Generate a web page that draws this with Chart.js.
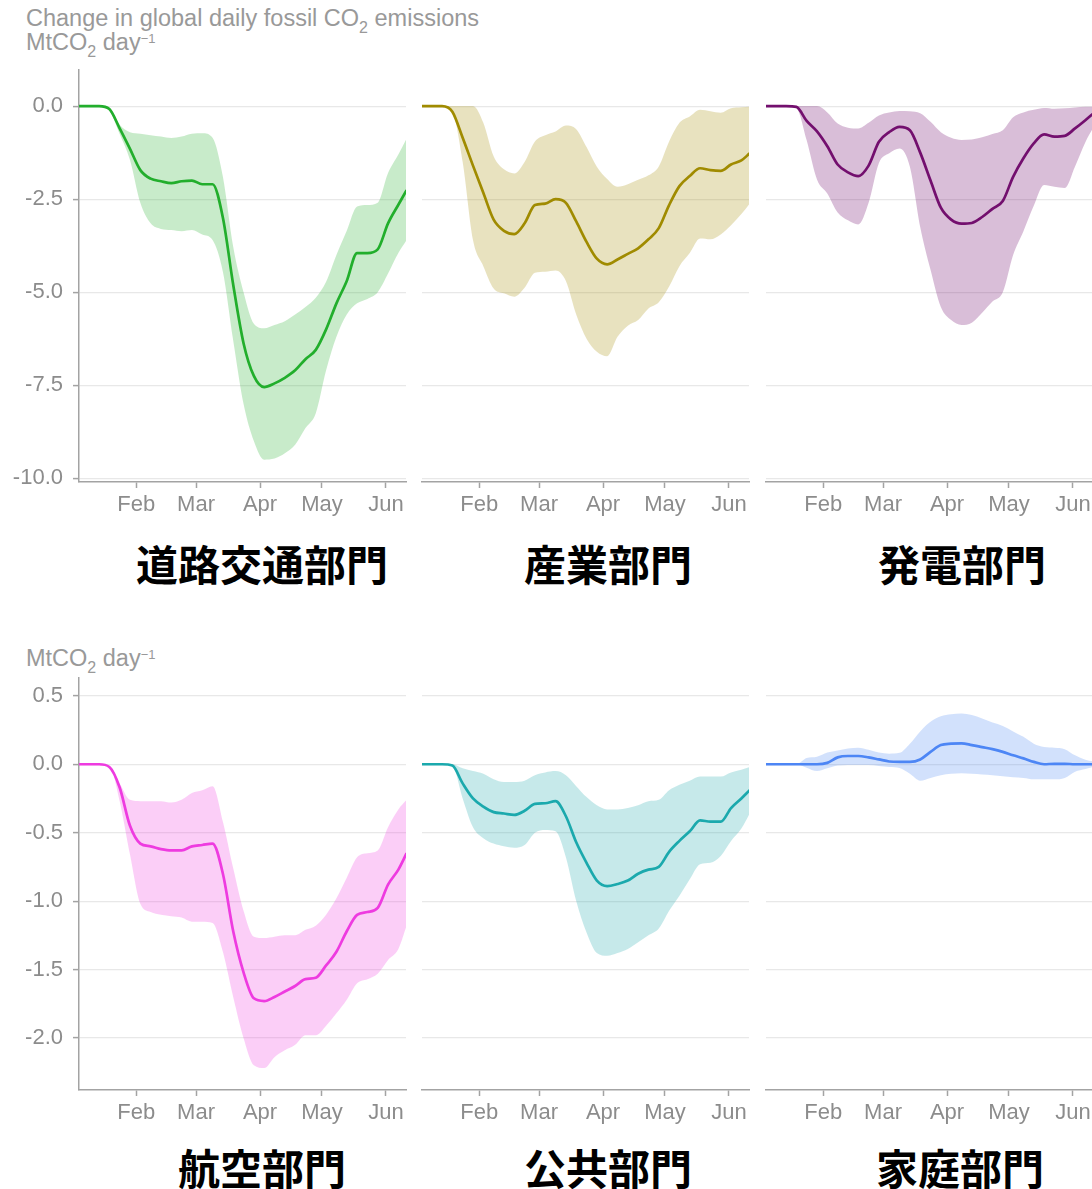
<!DOCTYPE html>
<html>
<head>
<meta charset="utf-8">
<title>部門別 CO2 排出量の変化</title>
<script src="https://cdn.jsdelivr.net/npm/chart.js@4.4.1/dist/chart.umd.min.js"></script>
<style>
  html, body { margin: 0; padding: 0; background: #fff; overflow: hidden; }
  #page { position: relative; width: 1092px; height: 1189px; overflow: hidden; font-family: "Liberation Sans", Arial, sans-serif; }
  .panel { position: absolute; }
  .caption { position: absolute; left: 26px; color: #999; font-size: 23.5px; line-height: 23px; white-space: nowrap; }
  .caption .sub { font-size: 16px; position: relative; top: 7px; }
  .caption .sup { font-size: 13px; position: relative; top: -7px; }
  .title { position: absolute; width: 340px; text-align: center; font: 700 42px/42px "Noto Sans CJK JP", sans-serif; color: #000; }
</style>
</head>
<body>
<div id="page">
  <div class="caption" style="top:7px">Change in global daily fossil CO<span class="sub">2</span> emissions</div>
  <div class="caption" style="top:31px">MtCO<span class="sub">2</span> day<span class="sup">−1</span></div>
  <div class="caption" style="top:647px">MtCO<span class="sub">2</span> day<span class="sup">−1</span></div>

  <canvas class="panel" id="road" width="416" height="482"></canvas>
  <canvas class="panel" id="industry" width="416" height="482"></canvas>
  <canvas class="panel" id="power" width="416" height="482"></canvas>
  <canvas class="panel" id="aviation" width="416" height="482"></canvas>
  <canvas class="panel" id="public" width="416" height="482"></canvas>
  <canvas class="panel" id="residential" width="416" height="482"></canvas>

  <div class="title" style="left:92px;top:542px">道路交通部門</div>
  <div class="title" style="left:438px;top:542px">産業部門</div>
  <div class="title" style="left:792px;top:542px">発電部門</div>
  <div class="title" style="left:92px;top:1146px">航空部門</div>
  <div class="title" style="left:438px;top:1146px">公共部門</div>
  <div class="title" style="left:790px;top:1146px">家庭部門</div>
</div>

<script>
"use strict";

// Day of year 2020 (Jan 1 = 0) for every sample
const days = [3, 8, 13, 18, 23, 28, 33, 38, 43, 48, 53, 58, 63, 68, 73, 78, 83, 88, 93, 98,
  103, 108, 113, 118, 123, 128, 133, 138, 143, 148, 153, 158, 162];

// Month ticks on the x axis
const monthDays = [31, 60, 91, 121, 152];
const monthLabels = ["Feb", "Mar", "Apr", "May", "Jun"];

// Y ticks for each row
const topRowTicks = [0, -2.5, -5, -7.5, -10];
const bottomRowTicks = [0.5, 0, -0.5, -1, -1.5, -2];

// Road transport (MtCO2/day): central estimate, upper and lower bound
const roadMid = [0, 0, 0, -0.08, -0.6, -1.15, -1.72, -1.95, -2.02, -2.07, -2.02, -2.0, -2.1, -2.1, -3.0, -4.8,
  -6.37, -7.25, -7.55, -7.45, -7.3, -7.1, -6.8, -6.55, -6.0, -5.3, -4.7, -3.95, -3.95, -3.85, -3.15, -2.65, -2.26];
const roadHi = [0, 0, 0, -0.05, -0.5, -0.7, -0.74, -0.78, -0.82, -0.86, -0.82, -0.74, -0.73, -0.85, -1.9, -3.78,
  -5.0, -5.85, -5.97, -5.88, -5.78, -5.6, -5.4, -5.15, -4.72, -4.0, -3.35, -2.7, -2.66, -2.6, -1.8, -1.3, -0.87];
const roadLo = [0, 0, 0, -0.12, -0.75, -1.45, -2.6, -3.15, -3.3, -3.33, -3.36, -3.33, -3.45, -3.6, -4.45, -6.3,
  -8.0, -9.0, -9.5, -9.47, -9.33, -9.1, -8.65, -8.25, -7.1, -6.2, -5.6, -5.3, -5.18, -5.0, -4.5, -3.95, -3.6];

// Industry
const indMid = [0, 0, 0, -0.15, -0.85, -1.6, -2.33, -3.05, -3.35, -3.44, -3.15, -2.66, -2.62, -2.5, -2.6, -3.1,
  -3.65, -4.1, -4.25, -4.12, -3.97, -3.82, -3.58, -3.28, -2.66, -2.15, -1.88, -1.67, -1.72, -1.74, -1.57, -1.46, -1.27];
const indHi = [0, 0, 0, 0, 0, 0, -0.45, -1.35, -1.7, -1.81, -1.5, -0.95, -0.78, -0.68, -0.52, -0.62,
  -1.1, -1.63, -1.96, -2.17, -2.1, -1.98, -1.86, -1.62, -0.95, -0.45, -0.28, -0.1, -0.14, -0.18, -0.06, -0.03, -0.02];
const indLo = [0, 0, 0, -0.15, -1.5, -3.6, -4.3, -4.9, -5.03, -5.12, -4.88, -4.48, -4.45, -4.42, -4.7, -5.6,
  -6.25, -6.6, -6.72, -6.2, -5.9, -5.75, -5.44, -5.27, -4.85, -4.3, -3.95, -3.56, -3.58, -3.45, -3.2, -2.9, -2.62];

// Power
const pwrMid = [0, 0, 0, -0.02, -0.4, -0.68, -1.08, -1.57, -1.78, -1.88, -1.6, -0.96, -0.7, -0.56, -0.65, -1.25,
  -2.0, -2.73, -3.05, -3.16, -3.14, -2.98, -2.76, -2.55, -1.9, -1.4, -1.0, -0.76, -0.82, -0.8, -0.6, -0.38, -0.19];
const pwrHi = [0, 0, 0, 0, 0, 0, -0.17, -0.47, -0.58, -0.6, -0.45, -0.25, -0.17, -0.13, -0.14, -0.19,
  -0.42, -0.7, -0.85, -0.91, -0.9, -0.84, -0.75, -0.65, -0.3, -0.17, -0.1, -0.05, -0.07, -0.06, -0.04, -0.02, -0.02];
const pwrLo = [0, 0, 0, -0.05, -0.92, -1.97, -2.35, -2.86, -3.07, -3.18, -2.6, -1.53, -1.27, -1.14, -1.63, -3.25,
  -4.4, -5.4, -5.75, -5.88, -5.82, -5.55, -5.25, -5.0, -4.0, -3.36, -2.68, -2.12, -2.17, -2.2, -1.62, -0.97, -0.56];

// Aviation
const avMid = [0, 0, 0, -0.02, -0.17, -0.45, -0.58, -0.6, -0.62, -0.63, -0.63, -0.6, -0.59, -0.58, -0.8, -1.22,
  -1.52, -1.71, -1.73, -1.7, -1.66, -1.62, -1.57, -1.56, -1.47, -1.37, -1.22, -1.1, -1.08, -1.05, -0.88, -0.77, -0.65];
const avHi = [0, 0, 0, -0.01, -0.14, -0.26, -0.27, -0.27, -0.27, -0.28, -0.26, -0.21, -0.19, -0.16, -0.42, -0.76,
  -1.07, -1.26, -1.27, -1.26, -1.25, -1.25, -1.21, -1.18, -1.1, -0.98, -0.83, -0.68, -0.65, -0.63, -0.46, -0.33, -0.26];
const avLo = [0, 0, 0, -0.01, -0.27, -0.66, -1.02, -1.08, -1.1, -1.11, -1.12, -1.15, -1.15, -1.16, -1.37, -1.7,
  -2.0, -2.2, -2.22, -2.14, -2.09, -2.05, -1.98, -1.98, -1.91, -1.82, -1.72, -1.6, -1.57, -1.53, -1.43, -1.35, -1.18];

// Public
const pubMid = [0, 0, 0, -0.01, -0.14, -0.25, -0.31, -0.35, -0.36, -0.37, -0.34, -0.29, -0.285, -0.27, -0.38, -0.57,
  -0.72, -0.85, -0.89, -0.875, -0.85, -0.8, -0.77, -0.75, -0.64, -0.56, -0.49, -0.41, -0.42, -0.42, -0.32, -0.25, -0.19];
const pubHi = [0, 0, 0, 0, -0.03, -0.05, -0.07, -0.11, -0.13, -0.13, -0.12, -0.08, -0.06, -0.05, -0.08, -0.16,
  -0.24, -0.3, -0.33, -0.33, -0.32, -0.3, -0.27, -0.26, -0.19, -0.15, -0.12, -0.09, -0.09, -0.09, -0.06, -0.04, -0.02];
const pubLo = [0, 0, 0, -0.01, -0.25, -0.46, -0.54, -0.58, -0.6, -0.61, -0.59, -0.5, -0.48, -0.49, -0.68, -1.0,
  -1.23, -1.38, -1.4, -1.38, -1.35, -1.3, -1.25, -1.2, -1.07, -0.96, -0.84, -0.73, -0.72, -0.67, -0.56, -0.47, -0.36];

// Residential
const resMid = [0, 0, 0, 0, 0, 0, 0.01, 0.05, 0.06, 0.06, 0.05, 0.035, 0.02, 0.017, 0.017, 0.035,
  0.09, 0.14, 0.15, 0.153, 0.14, 0.125, 0.11, 0.09, 0.065, 0.043, 0.017, 0, 0.003, 0.003, 0, 0, 0];
const resHi = [0, 0, 0, 0, 0.045, 0.055, 0.085, 0.1, 0.115, 0.12, 0.105, 0.085, 0.077, 0.083, 0.15, 0.24,
  0.31, 0.35, 0.365, 0.37, 0.36, 0.335, 0.305, 0.28, 0.24, 0.2, 0.15, 0.125, 0.12, 0.11, 0.065, 0.033, 0.02];
const resLo = [0, 0, 0, 0, -0.025, -0.05, -0.03, -0.01, -0.005, -0.005, -0.005, -0.012, -0.02, -0.028, -0.07, -0.12,
  -0.1, -0.08, -0.07, -0.066, -0.07, -0.075, -0.08, -0.088, -0.095, -0.1, -0.11, -0.11, -0.11, -0.1, -0.055, -0.035, -0.02];

const X_MIN = 3.3;
const X_MAX = 161.7;
const AXIS_GREY = "#a3a3a3";
const TICK_TEXT = "#8c8c8c";
const GRID = "#e8e8e8";

const toPoints = arr => days.map((d, i) => ({ x: d, y: arr[i] }));

function drawPanel(id, pos, series, look, yAxis) {
  const canvas = document.getElementById(id);
  canvas.style.left = pos.left + "px";
  canvas.style.top = pos.top + "px";

  const curve = { pointRadius: 0, cubicInterpolationMode: "monotone" };

  new Chart(canvas, {
    type: "line",
    data: {
      datasets: [
        { ...curve, data: toPoints(series.mid), borderColor: look.line, borderWidth: 2.7, fill: false },
        { ...curve, data: toPoints(series.hi), borderWidth: 0, borderColor: "transparent", backgroundColor: look.band, fill: "+1" },
        { ...curve, data: toPoints(series.lo), borderWidth: 0, borderColor: "transparent", fill: false }
      ]
    },
    options: {
      responsive: false,
      animation: false,
      events: [],
      // top padding is larger than the y tick label overhang so every panel gets the same plot box
      layout: { padding: { top: 25, right: 10, left: 0, bottom: 0 } },
      plugins: { legend: { display: false }, tooltip: { enabled: false } },
      scales: {
        x: {
          type: "linear", min: X_MIN, max: X_MAX,
          afterBuildTicks: s => { s.ticks = monthDays.map(v => ({ value: v })); },
          afterFit: s => { s.height = 45; },
          ticks: {
            autoSkip: false, maxRotation: 0, padding: 4, color: TICK_TEXT,
            font: { family: "'Liberation Sans', Arial, sans-serif", size: 22 },
            callback: (v, i) => monthLabels[i]
          },
          grid: { drawOnChartArea: false, tickLength: 6, tickColor: AXIS_GREY, tickWidth: 1.5 },
          border: { color: AXIS_GREY, width: 1.5 }
        },
        y: {
          min: yAxis.min, max: yAxis.max,
          afterBuildTicks: s => { s.ticks = yAxis.ticks.map(v => ({ value: v })); },
          afterFit: s => { s.width = 79; },
          ticks: {
            display: yAxis.labels, padding: 10, color: TICK_TEXT,
            font: { family: "'Liberation Sans', Arial, sans-serif", size: 22 },
            callback: v => v.toFixed(1)
          },
          grid: { color: GRID, lineWidth: 1.2, drawTicks: yAxis.labels, tickLength: 6, tickColor: AXIS_GREY, tickWidth: 1.5 },
          border: { display: yAxis.labels, color: AXIS_GREY, width: 1.5 }
        }
      }
    }
  });
}

const colLeft = [0, 343, 687];
const rowTop = [45, 653];
const topAxis = { min: -10.1, max: 0.97, ticks: topRowTicks };
const bottomAxis = { min: -2.38, max: 0.63, ticks: bottomRowTicks };

drawPanel("road", { left: colLeft[0], top: rowTop[0] }, { mid: roadMid, hi: roadHi, lo: roadLo },
  { line: "#22ae2c", band: "rgba(34,176,44,0.25)" }, { ...topAxis, labels: true });
drawPanel("industry", { left: colLeft[1], top: rowTop[0] }, { mid: indMid, hi: indHi, lo: indLo },
  { line: "#a08b00", band: "rgba(163,141,0,0.25)" }, { ...topAxis, labels: false });
drawPanel("power", { left: colLeft[2], top: rowTop[0] }, { mid: pwrMid, hi: pwrHi, lo: pwrLo },
  { line: "#730f6e", band: "rgba(115,15,110,0.27)" }, { ...topAxis, labels: false });
drawPanel("aviation", { left: colLeft[0], top: rowTop[1] }, { mid: avMid, hi: avHi, lo: avLo },
  { line: "#ee3be0", band: "rgba(238,59,224,0.25)" }, { ...bottomAxis, labels: true });
drawPanel("public", { left: colLeft[1], top: rowTop[1] }, { mid: pubMid, hi: pubHi, lo: pubLo },
  { line: "#1ba9ad", band: "rgba(27,169,173,0.25)" }, { ...bottomAxis, labels: false });
drawPanel("residential", { left: colLeft[2], top: rowTop[1] }, { mid: resMid, hi: resHi, lo: resLo },
  { line: "#4d86f5", band: "rgba(77,134,245,0.25)" }, { ...bottomAxis, labels: false });
</script>
</body>
</html>
